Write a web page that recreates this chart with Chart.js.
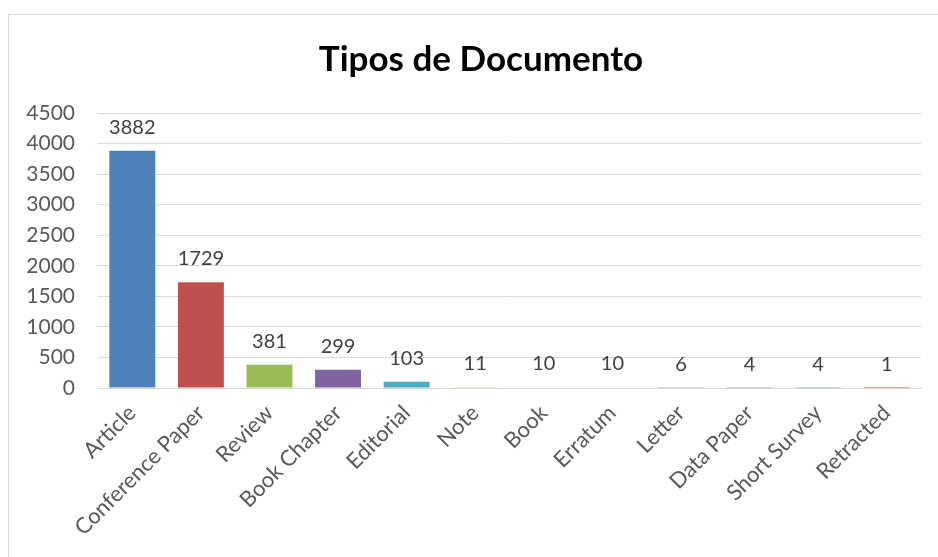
<!DOCTYPE html>
<html>
<head>
<meta charset="utf-8">
<script src="https://cdn.jsdelivr.net/npm/chart.js@4"></script>
<style>
  html, body { margin: 0; padding: 0; background: #fff; }
  #wrap { position: relative; width: 938px; height: 557px; }
</style>
</head>
<body>
<div id="wrap"><canvas id="docChart" width="938" height="557"></canvas></div>
<script>
const categories = ['Article', 'Conference Paper', 'Review', 'Book Chapter', 'Editorial', 'Note',
  'Book', 'Erratum', 'Letter', 'Data Paper', 'Short Survey', 'Retracted'];
const counts = [3882, 1729, 381, 299, 103, 11, 10, 10, 6, 4, 4, 1];
const yTicks = [0, 500, 1000, 1500, 2000, 2500, 3000, 3500, 4000, 4500];

const barColors = ['#4F81BD', '#C0504D', '#9BBB59', '#8064A2', '#4BACC6', '#F79646',
  '#2C4D75', '#772C2A', '#5F7530', '#4D3B62', '#276A7C', '#B65708'];

const fontFamily = 'Lato, "Open Sans", sans-serif';

// outer frame like the spreadsheet chart box
const framePlugin = {
  id: 'frame',
  beforeDraw(chart) {
    const ctx = chart.ctx;
    ctx.save();
    ctx.fillStyle = '#fff';
    ctx.fillRect(0, 0, chart.width, chart.height);
    ctx.strokeStyle = '#d9d9d9';
    ctx.lineWidth = 1;
    ctx.strokeRect(8.5, 14.5, chart.width + 10, chart.height + 10);
    ctx.restore();
  }
};

// the source frame is wider than the window, so its title sits right of centre
const titleShift = {
  id: 'titleShift',
  afterLayout(chart) {
    if (chart.titleBlock) chart.titleBlock.left += 41;
  }
};

// value labels above each bar
const valueLabels = {
  id: 'valueLabels',
  afterDatasetsDraw(chart) {
    const ctx = chart.ctx;
    const meta = chart.getDatasetMeta(0);
    ctx.save();
    ctx.font = '20px ' + fontFamily;
    ctx.fillStyle = '#404040';
    ctx.textAlign = 'center';
    ctx.textBaseline = 'alphabetic';
    meta.data.forEach((bar, i) => {
      ctx.fillText(String(counts[i]), bar.x, bar.y - 17);
    });
    ctx.restore();
  }
};

new Chart(document.getElementById('docChart'), {
  type: 'bar',
  data: {
    labels: categories,
    datasets: [{
      data: counts,
      backgroundColor: barColors,
      borderWidth: 0,
      categoryPercentage: 1,
      barPercentage: 0.67
    }]
  },
  options: {
    responsive: false,
    animation: false,
    layout: { padding: { top: 14, right: 17, bottom: 0, left: 0 } },
    plugins: {
      legend: { display: false },
      tooltip: { enabled: false },
      title: {
        display: true,
        text: 'Tipos de Documento',
        color: '#000',
        font: { family: fontFamily, size: 35, weight: 'bold' },
        padding: { top: 25, bottom: 32 }
      }
    },
    scales: {
      x: {
        grid: { display: false, drawTicks: false },
        border: { display: true, color: '#d9d9d9', width: 1 },
        ticks: {
          color: '#595959',
          font: { family: fontFamily, size: 22 },
          minRotation: 45,
          maxRotation: 45,
          padding: 12,
          autoSkip: false
        },
        afterFit(scale) { scale.height = 169; }
      },
      y: {
        min: 0,
        max: 4500,
        afterBuildTicks(scale) { scale.ticks = yTicks.map(v => ({ value: v })); },
        grid: { color: '#d9d9d9', drawTicks: false },
        border: { display: false },
        ticks: {
          color: '#595959',
          font: { family: fontFamily, size: 21 },
          padding: 23,
          callback: v => String(v)
        },
        afterFit(scale) { scale.width = 98; }
      }
    }
  },
  plugins: [framePlugin, titleShift, valueLabels]
});
</script>
</body>
</html>
